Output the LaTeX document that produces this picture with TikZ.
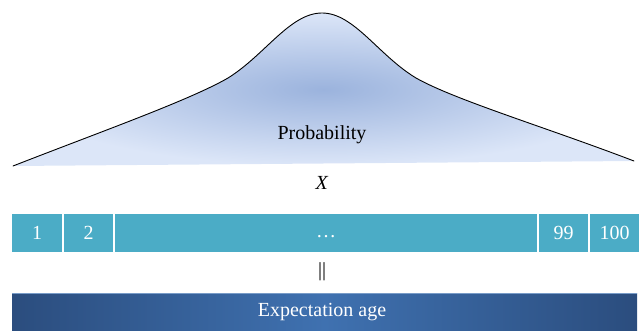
\documentclass[tikz,border=0pt]{standalone}
\usepackage{fontspec}
\setmainfont{Liberation Serif}
\usepackage{tikz}
\usetikzlibrary{positioning}

\definecolor{bellin}{HTML}{9BB3DD}
\definecolor{bellout}{HTML}{DCE6F8}
\definecolor{cellteal}{HTML}{4BACC6}
\definecolor{bardark}{HTML}{2B4D7E}
\definecolor{barlight}{HTML}{3F71B0}

\begin{document}
\begin{tikzpicture}[x=1pt, y=-1pt, node distance=2pt,
    every node/.style={font=\fontsize{20}{24}\selectfont},
    cell/.style={rectangle, fill=cellteal, text=white, inner sep=0pt, outer sep=0pt, minimum height=38pt}]
    \useasboundingbox (0,0) rectangle (639,331);

    % Bell curve
    \shade[inner color=bellin, outer color=bellout]
        (13,166) .. controls (100,132) and (190,100) .. (228,78)
        .. controls (265,55) and (290,13) .. (322,13)
        .. controls (354,13) and (378,55) .. (416,78)
        .. controls (455,100) and (545,127) .. (634,161) -- cycle;
    \draw[line width=0.9pt, line cap=round]
        (13,166) .. controls (100,132) and (190,100) .. (228,78)
        .. controls (265,55) and (290,13) .. (322,13)
        .. controls (354,13) and (378,55) .. (416,78)
        .. controls (455,100) and (545,127) .. (634,161);

    % Nodes
    \node (prob) at (322,135) {Probability};
    \node (x) at (322,183) {\textit{X}};

    \node[cell, minimum width=50pt, anchor=west] (c1) at (12,233) {1};
    \node[cell, minimum width=49pt, right=of c1] (c2) {2};
    \node[cell, minimum width=422pt, right=of c2] (dots) {\strut\ldots};
    \node[cell, minimum width=49pt, right=of dots] (c99) {99};
    \node[cell, minimum width=49pt, right=of c99] (c100) {100};

    \node (eq) at (322,272) {||};

    \shade[left color=bardark, right color=bardark, middle color=barlight]
        (12,293) rectangle (637,331);
    \draw[barlight!70!white, line width=1pt] (12,293.5) -- (637,293.5);
    \node[text=white] (age) at (322,312) {Expectation age};
\end{tikzpicture}
\end{document}
